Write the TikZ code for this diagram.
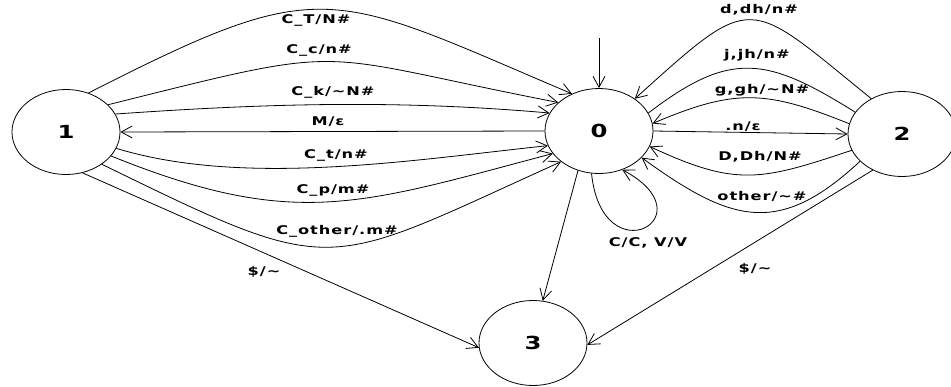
\documentclass[tikz,border=0pt]{standalone}
\usepackage{fontspec}
\newfontfamily\lblfont[FakeStretch=1.35,LetterSpace=8]{DejaVu Sans}
\usetikzlibrary{arrows.meta,shapes.geometric}
\begin{document}
\begin{tikzpicture}[x=1pt,y=1pt,
  state/.style={draw,ellipse,line width=0.8pt,minimum width=108pt,minimum height=85pt,
    inner sep=0pt,font=\lblfont\bfseries\fontsize{18}{18}\selectfont},
  lbl/.style={font=\lblfont\bfseries\fontsize{12}{12}\selectfont,inner sep=0pt},
  tr/.style={line width=0.8pt,-{Straight Barb[length=11pt,width=12pt]}},
  bare/.style={line width=0.8pt}]
  % canvas
  \fill[white] (0,0) rectangle (951,-386);
  \useasboundingbox (0,0) rectangle (951,-386);
  \clip (0,0) rectangle (951,-386);

  % states
  \node[state] (n1) at (66,-132) {1};
  \node[state] (n0) at (599,-131) {0};
  \node[state] (n2) at (902,-134) {2};
  \node[state] (n3) at (533,-343) {3};

  % start arrow
  \coordinate (init) at (599,-38);
  \draw[tr] (init) -- (n0.90);

  % transitions 1 -> 0
  \draw[tr] (n1.60.6) .. controls +(27:265) and +(157:265) .. (n0.126.9);
  \draw[tr] (n1.33.7) .. controls +(14:259) and +(169:259) .. (n0.145.3);
  \draw[tr] (n1.20.4) .. controls +(4:153) and +(175:153) .. (n0.160.6);
  \draw[tr] (n0.180) -- (n1.0);
  \draw[tr] (n1.-18.4) .. controls +(-17:134) and +(186:134) .. (n0.196.1);
  \draw[tr] (n1.-28) .. controls +(-22:199) and +(194.8:199) .. (n0.206);
  \draw[tr] (n1.-42.5) .. controls +(-26:264) and +(204.3:264) .. (n0.219.4);
  \draw[tr] (n1.-68.4) -- (n3.185);

  % transitions 2 -> 0 and 0 -> 2
  \draw[tr] (n2.131.4) .. controls +(141:162) and +(42:162) .. (n0.42.5);
  \draw[bare] (n2.155.9) .. controls +(148:104) and +(37.5:104) .. (n0.20.4);
  \draw[tr] (n2.169.8) .. controls +(158:90) and +(23:90) .. (n0.8.1);
  \draw[tr] (n0.0) -- (n2.180);
  \draw[tr] (n2.198) .. controls +(198.4:96) and +(-25:96) .. (n0.343.2);
  \draw[tr] (n2.213) .. controls +(223:111) and +(-36:111) .. (n0.328.5);
  \draw[tr] (n2.231) -- (n3.-2);

  % 0 -> 3 and self loop on 0
  \draw[tr] (n0.242.4) -- (n3.77);
  \draw[tr] (n0.260.5) .. controls +(-84:104) and +(-28:100) .. (n0.301.6);

  % labels
  \node[lbl] (lct) at (316,-20) {C\_T/N\#};
  \node[lbl] (lcc) at (319,-50) {C\_c/n\#};
  \node[lbl] (lck) at (333,-92) {C\_k/\textasciitilde N\#};
  \node[lbl] (lm) at (328,-122) {M/ε};
  \node[lbl] (lctt) at (336,-155) {C\_t/n\#};
  \node[lbl] (lcp) at (333,-190) {C\_p/m\#};
  \node[lbl] (lco) at (337,-231) {C\_other/.m\#};
  \node[lbl] (ld1) at (264,-272) {\$/\textasciitilde};
  \node[lbl] (ldd) at (759,-10) {d,dh/n\#};
  \node[lbl] (ljj) at (757,-55) {j,jh/n\#};
  \node[lbl] (lgg) at (762,-90) {g,gh/\textasciitilde N\#};
  \node[lbl] (lnn) at (743,-127) {.n/ε};
  \node[lbl] (lDD) at (760,-157) {D,Dh/N\#};
  \node[lbl] (lot) at (762,-196) {other/\textasciitilde\#};
  \node[lbl] (lcv) at (648,-243) {C/C, V/V};
  \node[lbl] (ld2) at (755,-269) {\$/\textasciitilde};
\end{tikzpicture}
\end{document}
